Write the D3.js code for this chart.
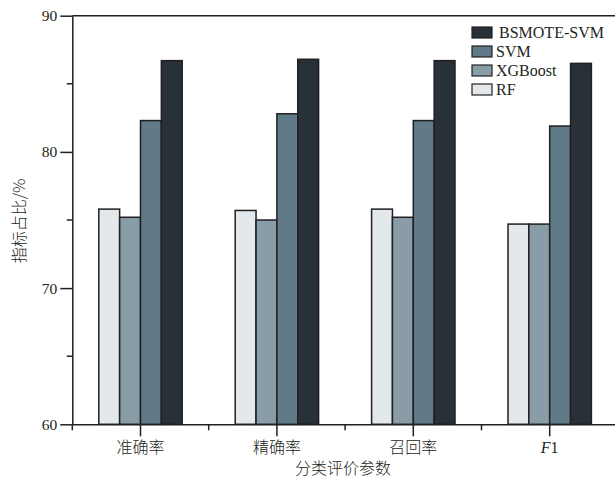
<!DOCTYPE html>
<html>
<head>
<meta charset="utf-8">
<script src="https://cdn.jsdelivr.net/npm/d3@7"></script>
<style>
  html, body { margin: 0; padding: 0; background: #fff; }
  svg { display: block; }
  .serif { font-family: "Liberation Serif", "Times New Roman", serif; font-weight: normal; }
  .cjk { font-family: "Noto Sans CJK SC", "Liberation Serif", serif; font-weight: 300; }
</style>
</head>
<body>
<svg id="chart" width="615" height="482"></svg>
<script>
// Evaluation metrics on the x axis
const categories = ["准确率", "精确率", "召回率", "F1"];
// Models, in bar order inside each group
const series = ["RF", "XGBoost", "SVM", "BSMOTE-SVM"];
// Scores (%) per model, one entry per metric
const rfValues = [75.8, 75.7, 75.8, 74.7];
const xgbValues = [75.2, 75.0, 75.2, 74.7];
const svmValues = [82.3, 82.8, 82.3, 81.9];
const bsmoteValues = [86.7, 86.8, 86.7, 86.5];
const yTicks = [60, 70, 80, 90];
const yMinorTicks = [65, 75, 85];
const legendOrder = ["BSMOTE-SVM", "SVM", "XGBoost", "RF"];

const valuesBySeries = {
  "RF": rfValues,
  "XGBoost": xgbValues,
  "SVM": svmValues,
  "BSMOTE-SVM": bsmoteValues
};
const colors = {
  "RF": "#e3e8ec",
  "XGBoost": "#889da7",
  "SVM": "#607a87",
  "BSMOTE-SVM": "#283038"
};
const strokeColor = "#231f20";

const svg = d3.select("#chart");
const plotLeft = 72.3, plotTop = 15.7;
const bandW = 136.4;
const plotW = bandW * categories.length;
const plotH = 408.6;
const plotBottom = plotTop + plotH;

const x0 = d3.scaleBand().domain(categories).range([plotLeft, plotLeft + plotW]).padding(0);
const groupW = 83.4;
const x1 = d3.scaleBand().domain(series)
  .range([(bandW - groupW) / 2, (bandW + groupW) / 2]).padding(0);
const y = d3.scaleLinear().domain([60, 90]).range([plotBottom, plotTop]);

// Bars
const rows = categories.map((c, i) => ({
  cat: c,
  vals: series.map(s => ({ key: s, value: valuesBySeries[s][i] }))
}));
const groups = svg.append("g").selectAll("g").data(rows).join("g")
  .attr("transform", d => `translate(${x0(d.cat)},0)`);
groups.selectAll("rect").data(d => d.vals).join("rect")
  .attr("x", d => x1(d.key))
  .attr("y", d => y(d.value))
  .attr("width", x1.bandwidth())
  .attr("height", d => y(60) - y(d.value))
  .attr("fill", d => colors[d.key])
  .attr("stroke", strokeColor)
  .attr("stroke-width", 1.5);

// Top frame line
svg.append("line")
  .attr("x1", plotLeft).attr("x2", plotLeft + plotW)
  .attr("y1", plotTop).attr("y2", plotTop)
  .attr("stroke", strokeColor).attr("stroke-width", 1.5);

// Y axis
const yAxis = svg.append("g")
  .attr("transform", `translate(${plotLeft},0)`)
  .call(d3.axisLeft(y).tickValues(yTicks).tickSize(12).tickPadding(3).tickSizeOuter(0));
yAxis.select(".domain").attr("stroke", strokeColor).attr("stroke-width", 1.5);
yAxis.selectAll(".tick line").attr("stroke", strokeColor).attr("stroke-width", 1.5);
yAxis.selectAll(".tick text").attr("class", "serif").attr("font-size", 15.5).attr("fill", "#231f20");
svg.append("g").selectAll("line").data(yMinorTicks).join("line")
  .attr("x1", plotLeft - 5.5).attr("x2", plotLeft)
  .attr("y1", d => y(d)).attr("y2", d => y(d))
  .attr("stroke", strokeColor).attr("stroke-width", 1.5);

// X axis
const xAxis = svg.append("g")
  .attr("transform", `translate(0,${plotBottom})`)
  .call(d3.axisBottom(x0).tickSize(12).tickPadding(5).tickSizeOuter(0));
xAxis.select(".domain").attr("stroke", strokeColor).attr("stroke-width", 1.5);
xAxis.selectAll(".tick line").attr("stroke", strokeColor).attr("stroke-width", 1.5);
xAxis.selectAll(".tick text")
  .attr("class", "cjk").attr("font-size", 16).attr("fill", "#231f20")
  .each(function (d) {
    if (d === "F1") {
      const t = d3.select(this).text(null).attr("class", "serif").attr("font-size", 16);
      t.append("tspan").attr("font-style", "italic").text("F");
      t.append("tspan").text("1");
    }
  });
// Minor ticks at group boundaries
svg.append("g").selectAll("line").data(categories).join("line")
  .attr("x1", d => x0(d)).attr("x2", d => x0(d))
  .attr("y1", plotBottom).attr("y2", plotBottom + 6)
  .attr("stroke", strokeColor).attr("stroke-width", 1.5);

// Axis titles
svg.append("text")
  .attr("class", "cjk")
  .attr("x", 343).attr("y", 474)
  .attr("text-anchor", "middle")
  .attr("font-size", 16).attr("fill", "#231f20")
  .text("分类评价参数");
svg.append("text")
  .attr("class", "cjk")
  .attr("transform", "translate(25,221) rotate(-90)")
  .attr("text-anchor", "middle")
  .attr("font-size", 16).attr("fill", "#231f20")
  .text("指标占比/%");

// Legend
const legend = svg.append("g").attr("transform", "translate(472,27)");
const items = legend.selectAll("g").data(legendOrder).join("g")
  .attr("transform", (d, i) => `translate(0,${i * 19})`);
items.append("rect")
  .attr("width", 20).attr("height", 11)
  .attr("fill", d => colors[d])
  .attr("stroke", strokeColor).attr("stroke-width", 1.2);
items.append("text")
  .attr("class", "serif")
  .attr("x", (d, i) => i === 0 ? 27 : 24)
  .attr("y", 11)
  .attr("font-size", 16).attr("fill", "#231f20")
  .text(d => d);
</script>
</body>
</html>
